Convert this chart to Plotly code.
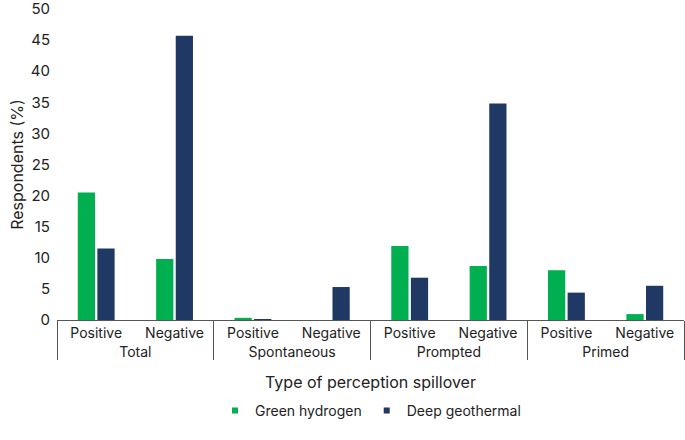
import plotly.graph_objects as go

groups = ["Total", "Total", "Spontaneous", "Spontaneous", "Prompted", "Prompted", "Primed", "Primed"]
subcats = ["Positive", "Negative"] * 4
green_hydrogen = [20.5, 9.8, 0.35, 0.0, 11.9, 8.7, 8.0, 0.95]
deep_geothermal = [11.5, 45.7, 0.15, 5.3, 6.8, 34.8, 4.4, 5.5]
y_ticks = [0, 5, 10, 15, 20, 25, 30, 35, 40, 45, 50]
series_names = ["Green hydrogen", "Deep geothermal"]
series_colors = ["#00B050", "#203864"]

font_family = "Inter, Roboto, sans-serif"

fig = go.Figure()
for vals, name, col in zip([green_hydrogen, deep_geothermal], series_names, series_colors):
    fig.add_trace(go.Bar(x=[groups, subcats], y=vals, name=name, showlegend=False,
                         marker=dict(color=col, line=dict(width=0))))
# legend entries with small square markers
for name, col in zip(series_names, series_colors):
    fig.add_trace(go.Scatter(x=[None], y=[None], mode="markers", name=name,
                             marker=dict(symbol="square", size=6, color=col)))

fig.update_layout(
    width=685, height=440,
    margin=dict(l=57, r=1, t=9, b=120),
    plot_bgcolor="white", paper_bgcolor="white",
    font=dict(family=font_family, size=14, color="#222222"),
    barmode="group", bargap=0.5, bargroupgap=0.12,
    showlegend=True,
    legend=dict(orientation="h", x=0.5, xanchor="center", y=-0.292, yanchor="middle",
                font=dict(size=14), itemwidth=30, traceorder="normal", tracegroupgap=0),
    xaxis=dict(
        type="multicategory", showline=True, linecolor="#555555", linewidth=1,
        showdividers=True, dividercolor="#555555", dividerwidth=1,
        tickfont=dict(size=14), ticks="", automargin=False,
        title=dict(text="Type of perception spillover", font=dict(size=16), standoff=18),
    ),
    yaxis=dict(
        range=[0, 50], tickvals=y_ticks, showgrid=False, zeroline=False, showline=False,
        tickfont=dict(size=15), ticks="", automargin=False, ticklabelstandoff=6,
        ticklabeloverflow="allow",
        title=dict(text="Respondents (%)", font=dict(size=16), standoff=3),
    ),
)

fig.write_html("out.html", config={"displayModeBar": False},
               post_script="document.body.style.margin='0';")
